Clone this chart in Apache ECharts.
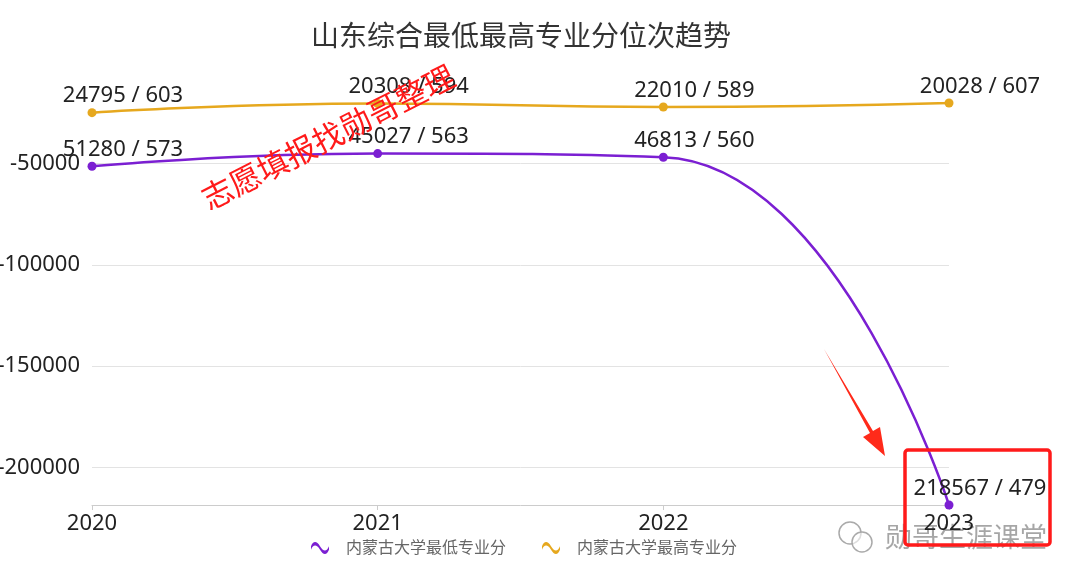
<!DOCTYPE html>
<html>
<head>
<meta charset="utf-8">
<script src="https://cdn.jsdelivr.net/npm/echarts@6/dist/echarts.min.js"></script>
<style>
  html, body { margin: 0; padding: 0; background: #fff; }
  #main { width: 1080px; height: 583px; }
</style>
</head>
<body>
<div id="main"></div>
<script>
var years = ['2020', '2021', '2022', '2023'];
// 位次（取负值画图）和分数
var minRank = [51280, 45027, 46813, 218567];
var minScore = [573, 563, 560, 479];
var maxRank = [24795, 20308, 22010, 20028];
var maxScore = [603, 594, 589, 607];
var seriesNames = ['内蒙古大学最低专业分', '内蒙古大学最高专业分'];

var font = "'Noto Sans', 'Noto Sans CJK SC', sans-serif";
var wave = 'path://M0,5 C2,0 5,0 8,5 C11,10 14,10 16,5 L16,8 C14,13 11,13 8,8 C5,3 2,3 0,8 Z';

function toPoints(ranks, scores) {
    return ranks.map(function (r, i) {
        return { value: -r, score: scores[i], rank: r };
    });
}

var myChart = echarts.init(document.getElementById('main'));

var labelOpt = {
    show: true,
    position: 'top',
    distance: 4,
    offset: [31, 3],
    fontSize: 22,
    color: '#222',
    fontFamily: font,
    formatter: function (p) {
        return p.data.rank + ' / ' + p.data.score;
    }
};

var option = {
    color: ['#7b1fd2', '#e6a81e'],
    title: {
        text: '山东综合最低最高专业分位次趋势',
        left: 306,
        top: 19,
        textStyle: { fontSize: 28, fontWeight: 'normal', color: '#333', fontFamily: font }
    },
    legend: {
        data: [
            { name: seriesNames[0], icon: wave },
            { name: seriesNames[1], icon: wave }
        ],
        bottom: 22,
        left: 306,
        itemWidth: 18,
        itemHeight: 12,
        itemGap: 36,
        textStyle: { fontSize: 16, color: '#666', fontFamily: font, padding: [0, 0, 0, 12] }
    },
    grid: { left: 92, right: 131, top: 103, bottom: 78, outerBoundsMode: 'none' },
    xAxis: {
        type: 'category',
        data: years,
        boundaryGap: false,
        axisLine: { lineStyle: { color: '#ccc' } },
        axisTick: { lineStyle: { color: '#ccc' } },
        axisLabel: { fontSize: 22, color: '#222', margin: 8, fontFamily: font }
    },
    yAxis: {
        type: 'value',
        min: 'dataMin',
        max: 'dataMax',
        splitNumber: 4,
        axisLabel: {
            fontSize: 22, color: '#222', margin: 12, fontFamily: font,
            showMinLabel: false, showMaxLabel: false,
            formatter: function (v) { return String(v); }
        },
        splitLine: { showMinLine: false, showMaxLine: false, lineStyle: { color: '#e3e3e3' } }
    },
    series: [
        {
            name: seriesNames[0],
            type: 'line',
            smooth: true,
            symbol: 'circle',
            symbolSize: 9,
            lineStyle: { width: 2.5 },
            label: labelOpt,
            data: toPoints(minRank, minScore)
        },
        {
            name: seriesNames[1],
            type: 'line',
            smooth: true,
            symbol: 'circle',
            symbolSize: 9,
            lineStyle: { width: 2.5 },
            label: labelOpt,
            data: toPoints(maxRank, maxScore)
        }
    ],
    graphic: [
        {
            type: 'text',
            x: 328, y: 137,
            rotation: Math.PI * 27 / 180,
            z: 100,
            style: {
                text: '志愿填报找勋哥整理',
                fontSize: 31,
                fill: '#ff1a1a',
                align: 'center',
                verticalAlign: 'middle',
                fontFamily: "'Noto Sans CJK SC', sans-serif"
            }
        },
        {
            type: 'polygon',
            z: 100,
            shape: {
                points: [[824, 349], [873, 431], [880, 427], [885, 456], [863, 437], [870, 433]]
            },
            style: { fill: '#ff2a1a' }
        },
        {
            type: 'rect',
            z: 100,
            shape: { x: 905, y: 450, width: 145, height: 95, r: 3 },
            style: { fill: 'none', stroke: '#ff1a1a', lineWidth: 3.5 }
        },
        {
            type: 'group',
            z: 100,
            children: [
                { type: 'circle', shape: { cx: 850, cy: 533, r: 11 },
                  style: { fill: 'rgba(255,255,255,0.6)', stroke: '#aaa', lineWidth: 1.5 } },
                { type: 'circle', shape: { cx: 862, cy: 542, r: 10 },
                  style: { fill: 'rgba(255,255,255,0.6)', stroke: '#aaa', lineWidth: 1.5 } },
                {
                    type: 'text',
                    x: 885, y: 537,
                    style: {
                        text: '勋哥生涯课堂',
                        fontSize: 27,
                        fill: 'rgba(150,150,150,0.85)',
                        stroke: '#fff',
                        lineWidth: 1,
                        verticalAlign: 'middle',
                        fontFamily: "'Noto Sans CJK SC', sans-serif"
                    }
                }
            ]
        }
    ]
};

myChart.setOption(option);
</script>
</body>
</html>
